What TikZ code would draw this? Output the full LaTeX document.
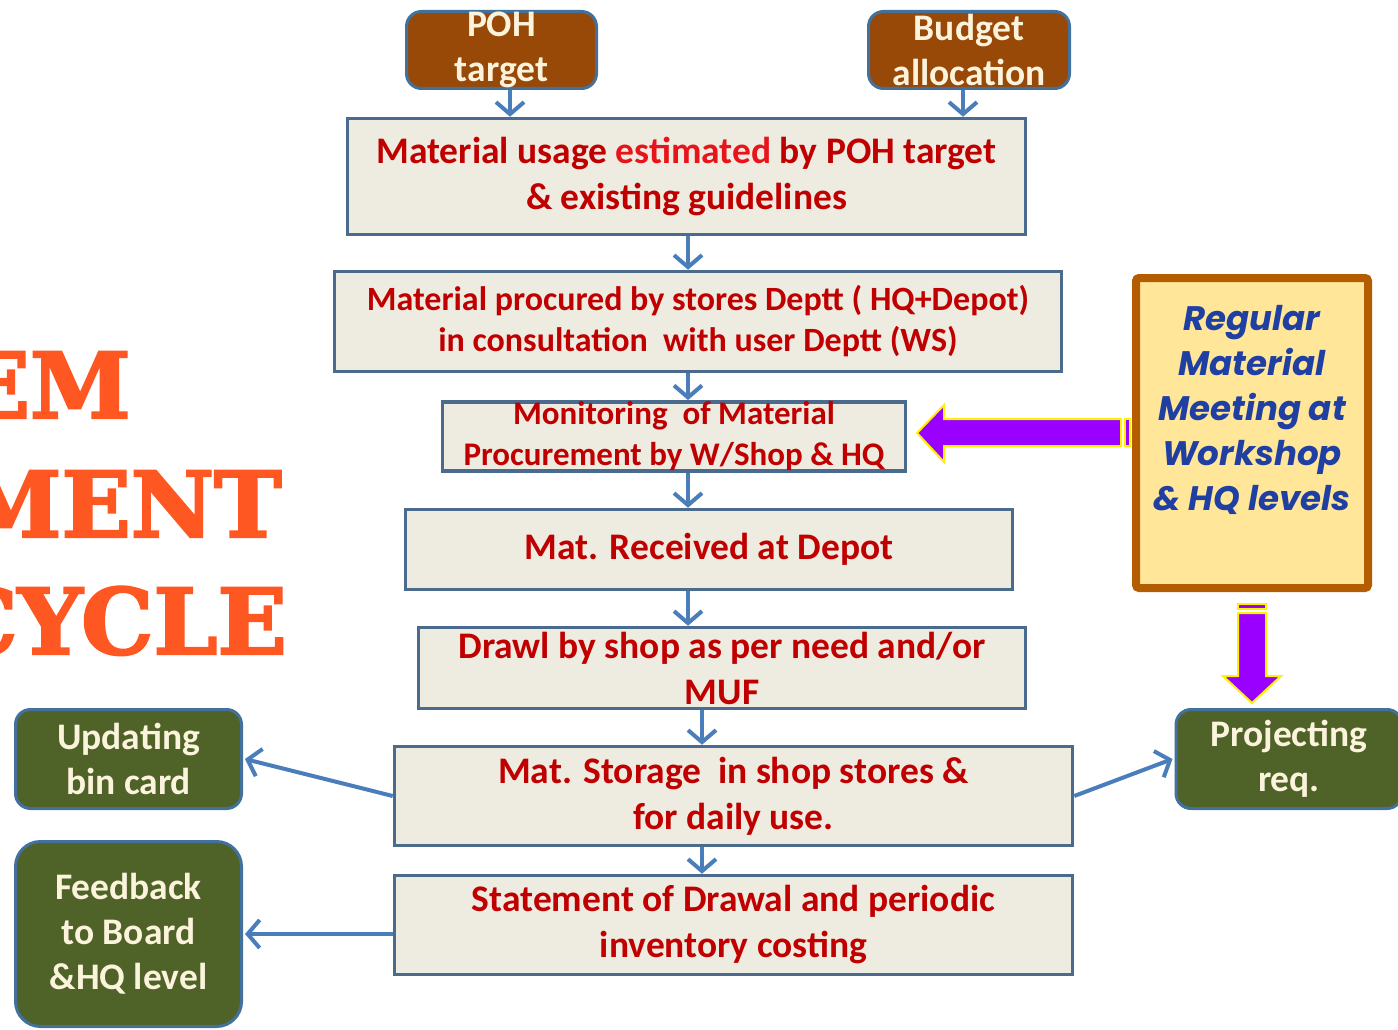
\documentclass[tikz,border=0pt]{standalone}
\usepackage{fontspec}
\setmainfont{Carlito}
\newfontfamily\popp{Poppins}
\newfontfamily\slab{DejaVu Serif}[BoldFeatures={FakeBold=2.5}]
\usetikzlibrary{arrows.meta}
\definecolor{boxfill}{HTML}{EEECE1}
\definecolor{boxline}{HTML}{4A6A8E}
\definecolor{txtred}{HTML}{C00000}
\definecolor{brightred}{HTML}{E8141B}
\definecolor{brownfill}{HTML}{984807}
\definecolor{olivefill}{HTML}{4F6228}
\definecolor{smline}{HTML}{41719C}
\definecolor{creamtxt}{HTML}{FBF3DC}
\definecolor{arrblue}{HTML}{4A7EBB}
\definecolor{regfill}{HTML}{FFE699}
\definecolor{regline}{HTML}{B35C00}
\definecolor{regtxt}{HTML}{1F3FA3}
\definecolor{purp}{HTML}{9900FF}
\definecolor{titleor}{HTML}{FF5722}
\tikzset{
  mainbox/.style={draw=boxline, fill=boxfill, line width=3.5pt, text=txtred, align=center, inner sep=0pt,
    font=\fontsize{37.5}{46}\selectfont\bfseries},
  smallfont/.style={font=\fontsize{34}{41}\selectfont\bfseries},
  monfont/.style={font=\fontsize{33}{41}\selectfont\bfseries},
  sidebox/.style={draw=smline, line width=3pt, rounded corners=15pt, text=creamtxt, align=center, inner sep=0pt,
    font=\fontsize{37.5}{45}\selectfont\bfseries},
  arr/.style={draw=arrblue, line width=4pt, -{Straight Barb[length=12pt,width=28pt,line width=4pt]}},
  blockarr/.style={fill=purp, draw=yellow, line width=2pt},
  titletext/.style={text=titleor, inner sep=0pt, anchor=base east, font=\fontsize{91}{100}\selectfont\slab\bfseries}
}
\begin{document}
\begin{tikzpicture}[x=1pt,y=-1pt]
\useasboundingbox (0,0) rectangle (1398,1030);
\clip (0,0) rectangle (1398,1030);
\fill[white] (0,0) rectangle (1398,1030);

% title fragments
\node[titletext] (t1) at (131,418) {EM};
\node[titletext] (t2) at (282,537) {MENT};
\node[titletext] (t3) at (287,654) {CYCLE};

% top boxes
\node[sidebox, fill=brownfill, minimum width=190pt, minimum height=77pt] (poh) at (501.5,50) {POH\\target};
\node[sidebox, fill=brownfill, minimum width=201pt, minimum height=77pt] (bud) at (969,50) {Budget\\allocation};

% main flow
\node[mainbox, minimum width=678pt, minimum height=116pt] (b1) at (686.5,176.5)
  {Material usage \textcolor{brightred}{estimated} by POH target\\\& existing guidelines};
\node[mainbox, smallfont, minimum width=727pt, minimum height=100pt] (b2) at (698,321.5)
  {Material procured by stores Deptt ( HQ+Depot)\\in consultation\ \ with user Deptt (WS)};
\node[mainbox, monfont, minimum width=463pt, minimum height=68pt] (b3) at (674,436.5)
  {Monitoring\ \ of Material\\Procurement by W/Shop\ \& HQ};
\node[mainbox, minimum width=607pt, minimum height=80pt] (b4) at (709,549.5)
  {Mat. Received at Depot};
\node[mainbox, minimum width=607pt, minimum height=81pt] (b5) at (722,668)
  {Drawl by shop as per need and/or\\MUF};
\node[mainbox, minimum width=678pt, minimum height=99pt] (b6) at (733.5,796)
  {Mat. Storage\ \ in shop stores \&\\for daily use.};
\node[mainbox, minimum width=678pt, minimum height=99pt] (b7) at (733.5,925)
  {Statement of Drawal and periodic\\inventory costing};

% side boxes
\node[sidebox, fill=olivefill, minimum width=226pt, minimum height=99pt] (upd) at (128.5,759) {Updating\\bin card};
\node[sidebox, fill=olivefill, rounded corners=25pt, minimum width=226pt, minimum height=185pt] (fb) at (128.5,934)
  {Feedback\\to Board\\\&HQ level};
\node[sidebox, fill=olivefill, minimum width=226pt, minimum height=99pt] (proj) at (1289,759) {Projecting\\req.};

% meeting box
\node[draw=regline, fill=regfill, line width=8pt, rounded corners=3pt, minimum width=232pt, minimum height=310pt] (reg) at (1252,433) {};
\node[text=regtxt, align=center, inner sep=0pt, font=\fontsize{34}{45}\selectfont\popp\bfseries\itshape] (regt) at (1252,410)
  {Regular\\Material\\Meeting at\\Workshop\\\& HQ levels};

% blue connectors
\draw[arr] ([xshift=8.5pt]poh.south) -- ([xshift=8.5pt]poh.south |- b1.north);
\draw[arr] ([xshift=-6pt]bud.south) -- ([xshift=-6pt]bud.south |- b1.north);
\draw[arr] ([xshift=1.5pt]b1.south) -- ([xshift=1.5pt]b1.south |- b2.north);
\draw[arr] ([xshift=-10pt]b2.south) -- ([xshift=-10pt]b2.south |- b3.north);
\draw[arr] ([xshift=14pt]b3.south) -- ([xshift=14pt]b3.south |- b4.north);
\draw[arr] ([xshift=-21pt]b4.south) -- ([xshift=-21pt]b4.south |- b5.north);
\draw[arr] ([xshift=-20pt]b5.south) -- ([xshift=-20pt]b5.south |- b6.north);
\draw[arr] ([xshift=-31.5pt]b6.south) -- ([xshift=-31.5pt]b6.south |- b7.north);
\draw[arr] (b6.west) -- ([xshift=2pt]upd.east);
\draw[arr] (b6.east) -- ([xshift=-2pt]proj.west);
\draw[arr] (b7.west |- fb.east) -- ([xshift=2pt]fb.east);

% purple block arrows
\filldraw[blockarr] (917,433) -- (944,405) -- (944,419) -- (1121,419) -- (1121,446) -- (944,446) -- (944,462) -- cycle;
\filldraw[blockarr] (1124.5,419) rectangle (1130,446);
\filldraw[blockarr] (1238,603.5) rectangle (1266,609);
\filldraw[blockarr] (1238,613) -- (1266,613) -- (1266,676) -- (1281,676) -- (1252,703) -- (1223,676) -- (1238,676) -- cycle;
\end{tikzpicture}
\end{document}
